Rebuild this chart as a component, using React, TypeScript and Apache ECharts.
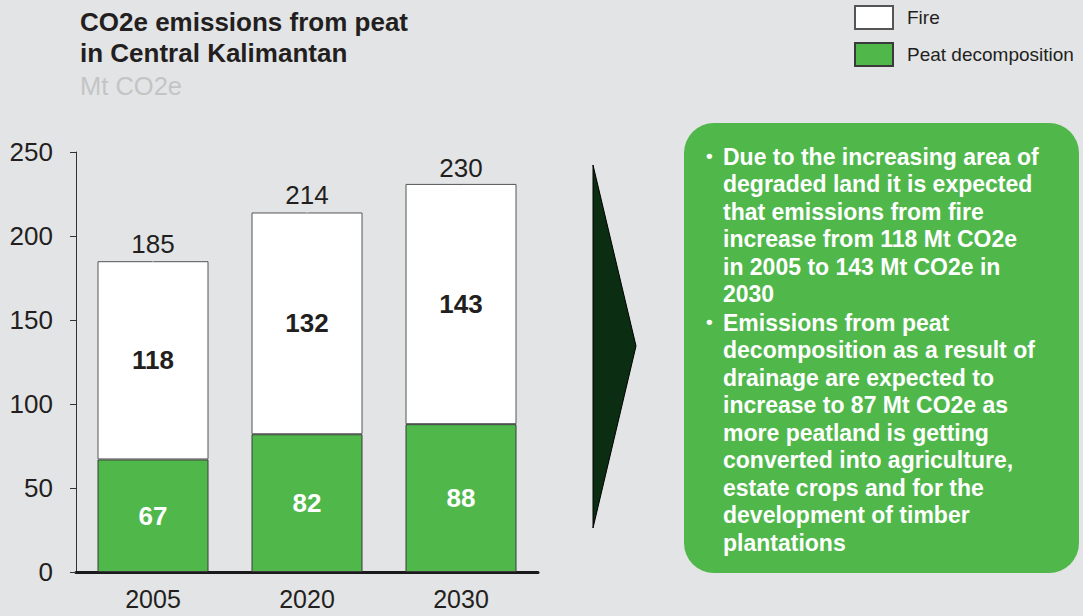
import React, { useEffect, useRef } from "react";
import * as echarts from "echarts";

const categories = ["2005", "2020", "2030"];
const peatValues = [67, 82, 88];
const fireValues = [118, 132, 143];
const totals = [185, 214, 230];
const yTicks = { min: 0, max: 250, interval: 50 };

const bullet1 = [
  "Due to the increasing area of",
  "degraded land it is expected",
  "that emissions from fire",
  "increase from 118 Mt CO2e",
  "in 2005 to 143 Mt CO2e in",
  "2030",
];
const bullet2 = [
  "Emissions from peat",
  "decomposition as a result of",
  "drainage are expected to",
  "increase to 87 Mt CO2e as",
  "more peatland is getting",
  "converted into agriculture,",
  "estate crops and for the",
  "development of timber",
  "plantations",
];

const FONT = "'Liberation Sans', Arial, sans-serif";
const GREEN = "#50b84b";

export default function App() {
  const ref = useRef<HTMLDivElement>(null);
  useEffect(() => {
    if (!ref.current) return;
    const chart = echarts.init(ref.current, null, { renderer: "svg" });
    chart.setOption({
      animation: false,
      backgroundColor: "#e3e4e6",
      textStyle: { fontFamily: FONT },
      title: {
        text: "CO2e emissions from peat\nin Central Kalimantan",
        subtext: "Mt CO2e",
        left: 80,
        top: 6,
        padding: 0,
        itemGap: 5,
        textStyle: { fontFamily: FONT, fontSize: 26, fontWeight: "bold", color: "#231f20", lineHeight: 31 },
        subtextStyle: { fontFamily: FONT, fontSize: 25.5, color: "#c4c4c4", lineHeight: 26 },
      },
      legend: {
        data: ["Fire", "Peat decomposition"],
        orient: "vertical",
        left: 854,
        top: 5,
        padding: 0,
        itemWidth: 38,
        itemHeight: 23,
        itemGap: 12,
        icon: "rect",
        textStyle: { fontFamily: FONT, fontSize: 19, color: "#231f20", padding: [0, 0, 0, 9] },
      },
      grid: { left: 76, right: 545, top: 152, bottom: 44, containLabel: false },
      xAxis: {
        type: "category",
        data: categories,
        axisLine: { lineStyle: { color: "#1a1a1a", width: 3 } },
        axisTick: { show: false },
        axisLabel: { fontFamily: FONT, fontSize: 25, lineHeight: 24, color: "#231f20", margin: 15 },
      },
      yAxis: {
        type: "value",
        min: yTicks.min,
        max: yTicks.max,
        interval: yTicks.interval,
        splitLine: { show: false },
        axisLine: { show: true, lineStyle: { color: "#333", width: 1 } },
        axisTick: { show: true, length: 6, lineStyle: { color: "#333", width: 1 } },
        axisLabel: { fontFamily: FONT, fontSize: 26, color: "#231f20", margin: 23 },
      },
      series: [
        {
          name: "Peat decomposition",
          type: "bar",
          stack: "total",
          barWidth: 111,
          data: peatValues,
          itemStyle: { color: GREEN, borderColor: "#3a3a3a", borderWidth: 1 },
          label: {
            show: true,
            position: "inside",
            fontFamily: FONT,
            fontSize: 26,
            fontWeight: "bold",
            color: "#ffffff",
          },
        },
        {
          name: "Fire",
          type: "bar",
          stack: "total",
          barWidth: 111,
          data: fireValues,
          itemStyle: { color: "#ffffff", borderColor: "#555555", borderWidth: 1 },
          label: {
            show: true,
            position: "inside",
            fontFamily: FONT,
            fontSize: 26,
            fontWeight: "bold",
            color: "#231f20",
          },
        },
        {
          name: "Total",
          type: "scatter",
          data: totals,
          symbol: "circle",
          symbolSize: 1,
          itemStyle: { color: "#e3e4e6", opacity: 1 },
          label: {
            show: true,
            position: "top",
            distance: 4,
            fontFamily: FONT,
            fontSize: 26,
            color: "#231f20",
            opacity: 1,
            formatter: (p: any) => String(p.value),
          },
        },
      ],
      graphic: [
        {
          type: "polygon",
          shape: { points: [[593, 165], [593, 528], [636, 346]] },
          style: { fill: "#0b2e12", stroke: "#000000", lineWidth: 1 },
        },
        {
          type: "rect",
          shape: { x: 684, y: 123, width: 395, height: 450, r: 30 },
          style: { fill: GREEN },
        },
        {
          type: "text",
          x: 706,
          y: 142,
          style: { text: "•", fontFamily: FONT, fontSize: 19, fontWeight: "bold", fill: "#ffffff", lineHeight: 27.5, verticalAlign: "top" },
        },
        {
          type: "text",
          x: 723,
          y: 143,
          style: {
            text: bullet1.join("\n"),
            fontFamily: FONT,
            fontSize: 23,
            fontWeight: "bold",
            fill: "#ffffff",
            lineHeight: 27.5,
            verticalAlign: "top",
          },
        },
        {
          type: "text",
          x: 706,
          y: 308,
          style: { text: "•", fontFamily: FONT, fontSize: 19, fontWeight: "bold", fill: "#ffffff", lineHeight: 27.5, verticalAlign: "top" },
        },
        {
          type: "text",
          x: 723,
          y: 309,
          style: {
            text: bullet2.join("\n"),
            fontFamily: FONT,
            fontSize: 23,
            fontWeight: "bold",
            fill: "#ffffff",
            lineHeight: 27.5,
            verticalAlign: "top",
          },
        },
      ],
    });
    return () => chart.dispose();
  }, []);
  return (
    <div
      ref={ref}
      style={{ position: "absolute", left: 0, top: 0, width: 1083, height: 616 }}
    />
  );
}
